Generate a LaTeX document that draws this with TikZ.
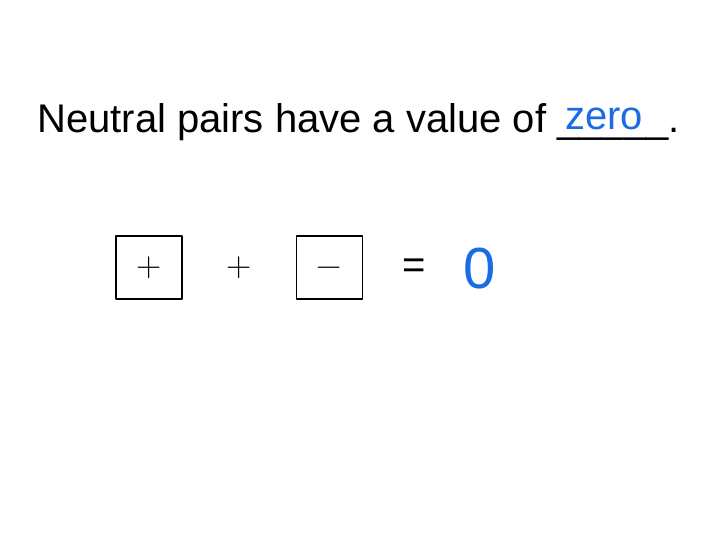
\documentclass[tikz,border=0pt]{standalone}
\usepackage{fontspec}
\setmainfont{Liberation Sans}
\newfontfamily\lmrfont{Latin Modern Roman}
\definecolor{ansblue}{RGB}{26,107,230}
\begin{document}
\begin{tikzpicture}[x=1pt,y=-1pt,
  tile/.style={draw=black,line width=1.8pt,line join=round,minimum width=66pt,minimum height=63pt,inner sep=0pt,
    font=\lmrfont\fontsize{35}{40}\selectfont},
  sym/.style={inner sep=0pt,font=\lmrfont\fontsize{35}{40}\selectfont},
  big/.style={inner sep=0pt,font=\fontsize{40}{48}\selectfont}]
\useasboundingbox (0,0) rectangle (720,540);
\node[big,anchor=base west] (title) at (37,133) {Neutral pairs have a value of \_\_\_\_\_.};
\node[big,anchor=base west,text=ansblue] (ans) at (565,130) {zero};
\node[tile] (pos) at (149,267.5) {+};
\node[sym] (plus) at (239.5,268) {+};
\node[tile] (neg) at (329.5,267.5) {\vphantom{+}−};
\node[big] (eq) at (414.5,268.5) {=};
\node[inner sep=0pt,font=\fontsize{58}{66}\selectfont,text=ansblue] (zero) at (479.5,269) {0};
\end{tikzpicture}
\end{document}
